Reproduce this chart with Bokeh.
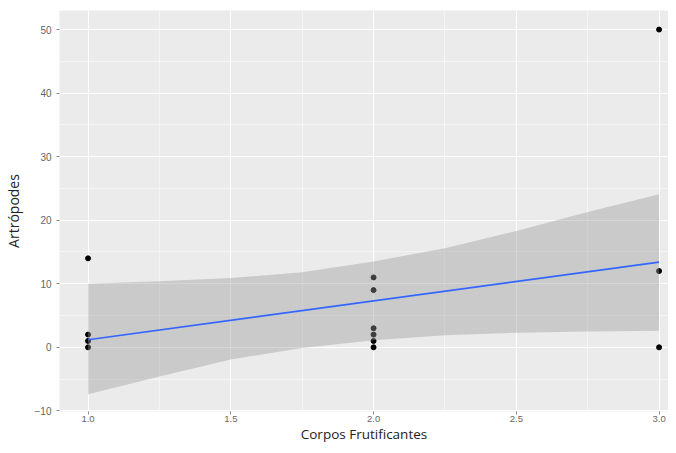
from bokeh.plotting import figure
from bokeh.models import FixedTicker, ColumnDataSource
from bokeh.embed import file_html
from bokeh.resources import INLINE

# Observed data (Corpos Frutificantes vs Artrópodes)
corpos = [1, 1, 1, 1, 2, 2, 2, 2, 2, 2, 3, 3, 3]
artropodes = [14, 2, 1, 0, 11, 9, 3, 2, 1, 0, 50, 12, 0]

# Linear smooth
fit_x = [1.0, 3.0]
fit_y = [1.2, 13.4]
band_x = [1.0, 1.25, 1.5, 1.75, 2.0, 2.25, 2.5, 2.75, 3.0]
band_upper = [10.0, 10.4, 10.9, 11.8, 13.5, 15.6, 18.3, 21.3, 24.1]
band_lower = [-7.4, -4.6, -1.9, -0.1, 1.1, 1.9, 2.3, 2.5, 2.6]

x_ticks = [1.0, 1.5, 2.0, 2.5, 3.0]
x_minor = [1.25, 1.75, 2.25, 2.75]
y_ticks = [-10, 0, 10, 20, 30, 40, 50]
y_minor = [-5, 5, 15, 25, 35, 45]

p = figure(width=668, height=445, output_backend="svg", toolbar_location=None,
           x_range=(0.9, 3.033), y_range=(-10.1, 53.0),
           min_border_left=0, min_border_right=0, min_border_top=10, min_border_bottom=0)

p.background_fill_color = "#EBEBEB"
p.border_fill_color = "white"
p.outline_line_color = None

p.xaxis.ticker = FixedTicker(ticks=x_ticks, minor_ticks=x_minor)
p.yaxis.ticker = FixedTicker(ticks=y_ticks, minor_ticks=y_minor)
p.xaxis.major_label_overrides = {t: f"{t:.1f}" for t in x_ticks}

for g in (p.xgrid, p.ygrid):
    g.grid_line_color = "white"
    g.grid_line_width = 1.1
    g.minor_grid_line_color = "white"
    g.minor_grid_line_width = 0.5

for ax in (p.xaxis, p.yaxis):
    ax.axis_line_color = None
    ax.major_tick_line_color = "#8A8A8A"
    ax.major_tick_in = 0
    ax.major_tick_out = 3
    ax.minor_tick_line_color = None
    ax.major_label_text_color = "#666666"
    ax.major_label_text_font = "Liberation Sans"
    ax.major_label_text_font_size = "10px"
    ax.axis_label_text_font = "Open Sans"
    ax.axis_label_text_font_style = "normal"
    ax.axis_label_text_font_size = "14px"
    ax.axis_label_text_color = "#222222"

p.xaxis.major_label_text_font_size = "9.5px"
p.xaxis.axis_label_text_font_size = "13.5px"
p.xaxis.axis_label = "Corpos Frutificantes"
p.yaxis.axis_label = "Artrópodes"
p.xaxis.major_label_standoff = 0
p.yaxis.major_label_standoff = 4
p.xaxis.axis_label_standoff = 0
p.yaxis.axis_label_standoff = 9

pts = ColumnDataSource(dict(x=corpos, y=artropodes))
p.scatter("x", "y", source=pts, size=5, color="black")

band = ColumnDataSource(dict(x=band_x, lo=band_lower, hi=band_upper))
p.varea(x="x", y1="lo", y2="hi", source=band, fill_color="#999999", fill_alpha=0.4)

p.line(fit_x, fit_y, line_color="#3366FF", line_width=1.6)

open("out.html", "w").write(file_html(p, INLINE))
